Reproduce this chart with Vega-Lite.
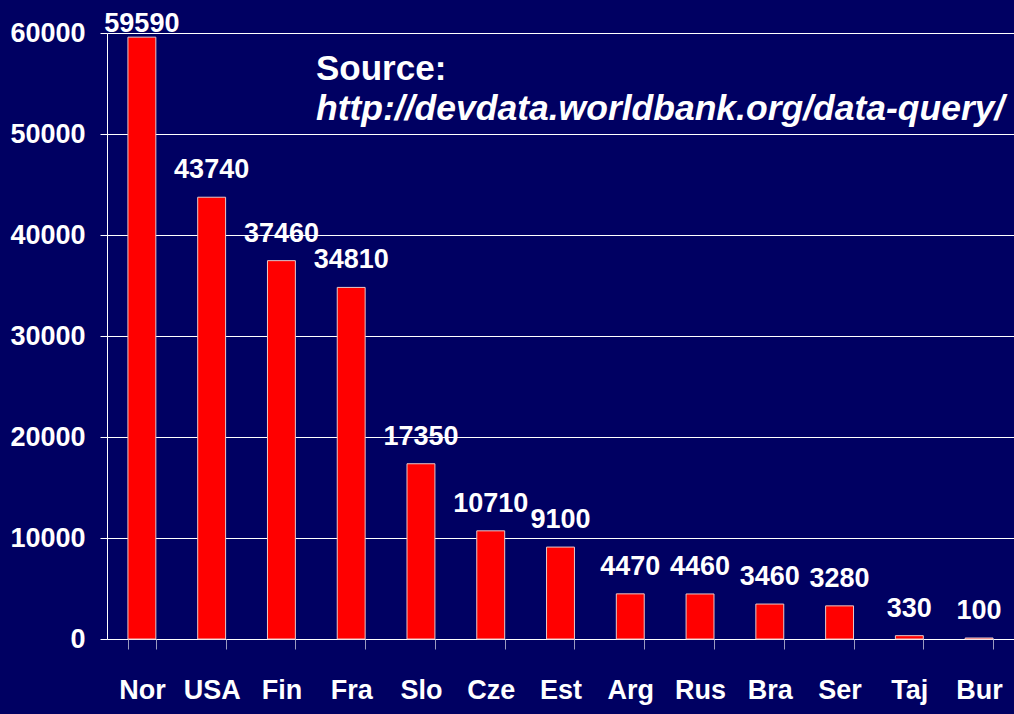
{
  "$schema": "https://vega.github.io/schema/vega-lite/v6.json",
  "width": 907,
  "height": 606,
  "autosize": {"type": "none"},
  "padding": {"left": 107, "top": 33, "right": 0, "bottom": 75},
  "background": "#000062",
  "title": {
    "text": "Source:",
    "subtitle": "http://devdata.worldbank.org/data-query/",
    "anchor": "start",
    "frame": "group",
    "orient": "top",
    "dx": 209,
    "dy": 121,
    "font": "Liberation Sans",
    "fontSize": 35,
    "fontWeight": "bold",
    "color": "white",
    "subtitleFont": "Liberation Sans",
    "subtitleFontSize": 35.5,
    "subtitleFontWeight": "bold",
    "subtitleFontStyle": "italic",
    "subtitleColor": "white",
    "subtitlePadding": 5
  },
  "config": {
    "view": {"stroke": null},
    "axis": {
      "labelFont": "Liberation Sans",
      "labelFontWeight": "bold",
      "labelFontSize": 27,
      "labelColor": "white",
      "domainColor": "white",
      "title": null
    }
  },
  "data": {
    "values": [
      {"country": "Nor", "gni": 59590},
      {"country": "USA", "gni": 43740},
      {"country": "Fin", "gni": 37460},
      {"country": "Fra", "gni": 34810},
      {"country": "Slo", "gni": 17350},
      {"country": "Cze", "gni": 10710},
      {"country": "Est", "gni": 9100},
      {"country": "Arg", "gni": 4470},
      {"country": "Rus", "gni": 4460},
      {"country": "Bra", "gni": 3460},
      {"country": "Ser", "gni": 3280},
      {"country": "Taj", "gni": 330},
      {"country": "Bur", "gni": 100}
    ]
  },
  "encoding": {
    "x": {
      "field": "country",
      "type": "nominal",
      "sort": null,
      "scale": {"paddingInner": 0.6, "paddingOuter": 0.3},
      "axis": {
        "labelAngle": 0,
        "tickBand": "extent",
        "tickSize": 10,
        "tickColor": "#9a9ac0",
        "domain": false,
        "labelPadding": 28,
        "labelFontSize": 27
      }
    }
  },
  "layer": [
    {
      "mark": {"type": "bar", "fill": "#ff0000", "stroke": "#e8c8c8", "strokeWidth": 1},
      "encoding": {
        "y": {
          "field": "gni",
          "type": "quantitative",
          "scale": {"domain": [0, 60000], "nice": false},
          "axis": {
            "values": [0, 10000, 20000, 30000, 40000, 50000, 60000],
            "grid": true,
            "gridColor": "white",
            "gridOpacity": 1,
            "gridWidth": 1,
            "tickColor": "white",
            "tickSize": 7,
            "labelPadding": 15,
            "domainColor": "white",
            "format": "d"
          }
        }
      }
    },
    {
      "transform": [{"calculate": "min(datum.gni, 58200)", "as": "labelPos"}],
      "mark": {
        "type": "text",
        "font": "Liberation Sans",
        "fontWeight": "bold",
        "fontSize": 27,
        "color": "white",
        "baseline": "alphabetic",
        "dy": -19
      },
      "encoding": {
        "y": {"field": "labelPos", "type": "quantitative"},
        "text": {"field": "gni", "type": "quantitative", "format": "d"}
      }
    },
    {
      "mark": {"type": "rule", "color": "white", "strokeWidth": 1},
      "encoding": {"y": {"datum": 0}}
    }
  ]
}
